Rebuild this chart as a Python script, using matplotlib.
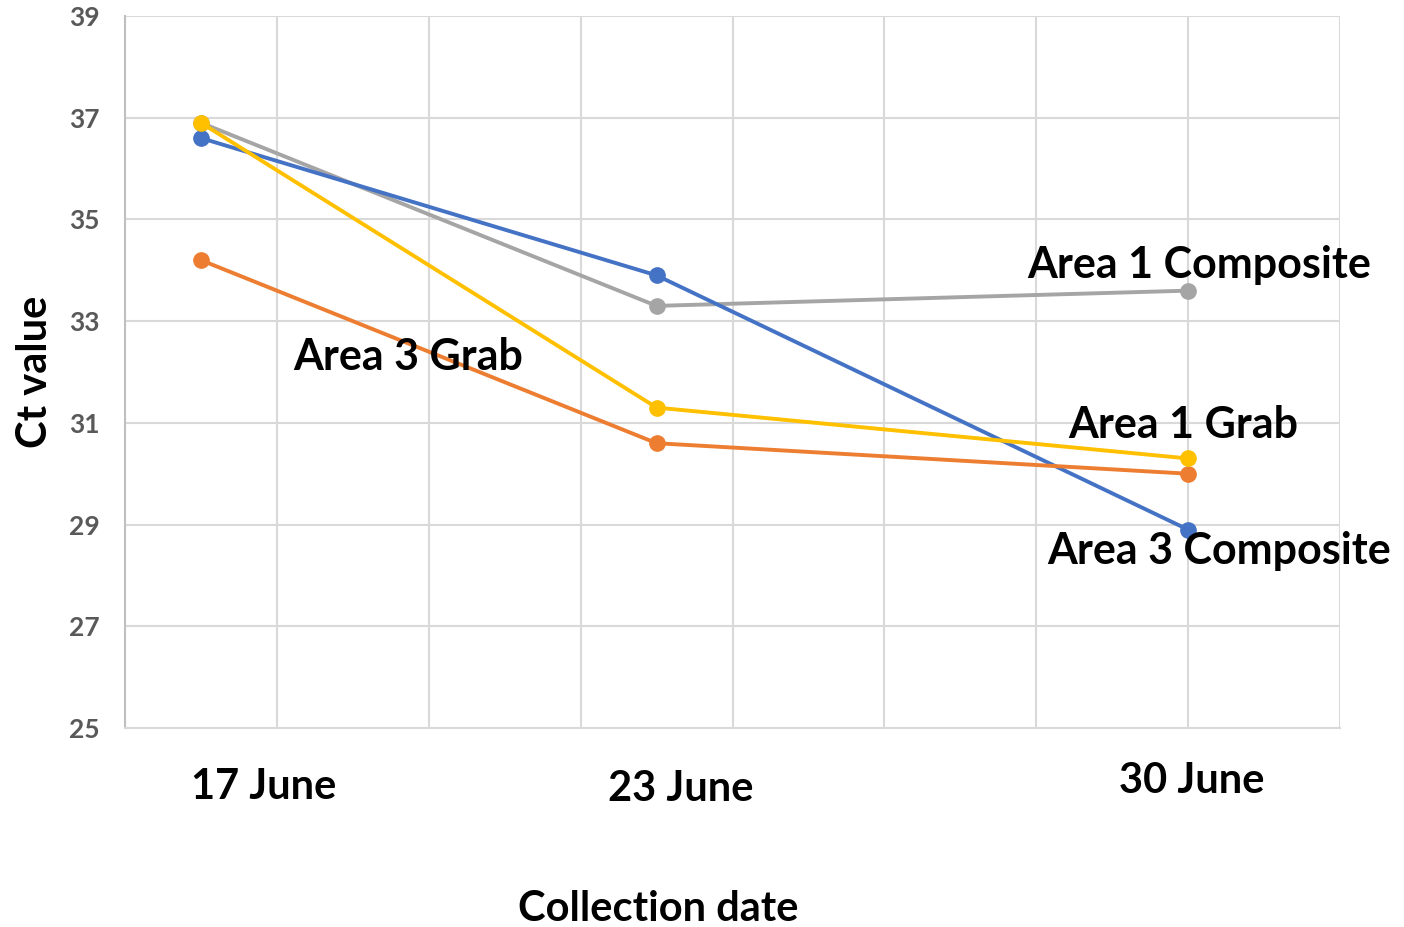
import matplotlib
matplotlib.use("Agg")
import matplotlib.pyplot as plt

plt.rcParams['font.family'] = ['Lato', 'DejaVu Sans']

# collection day (day of June, 32 = 2 July)
days = [17, 23, 30]
date_labels = ['17 June', '23 June', '30 June']

area3_composite = [36.6, 33.9, 28.9]
area3_grab = [34.2, 30.6, 30.0]
area1_composite = [36.9, 33.3, 33.6]
area1_grab = [36.9, 31.3, 30.3]

W, H = 1404, 927
fig = plt.figure(figsize=(W / 100, H / 100), dpi=100)
ax = fig.add_axes([125 / W, 1 - 728 / H, (1340 - 125) / W, (728 - 16) / H])


def px(x, y):
    return x / W, 1 - y / H


series = [
    (area1_composite, '#a5a5a5'),
    (area3_composite, '#4472c4'),
    (area3_grab, '#ed7d31'),
    (area1_grab, '#ffc000'),
]
for vals, col in series:
    ax.plot(days, vals, color=col, lw=2.8, marker='o', ms=11, zorder=3)

ax.set_xlim(16, 32)
ax.set_ylim(25, 39)
ax.set_xticks(range(16, 33, 2))
ax.set_yticks(range(25, 40, 2))
ax.set_xticklabels([])
ax.tick_params(axis='x', length=0)
ax.tick_params(axis='y', length=0, pad=18, labelsize=19, labelcolor='#595959')
for lab in ax.get_yticklabels():
    lab.set_fontweight('bold')
ax.grid(True, color='#d9d9d9', lw=1.5)
for s in ['top', 'right']:
    ax.spines[s].set_visible(False)
ax.spines['left'].set_color('#bfbfbf')
ax.spines['bottom'].set_color('#d9d9d9')
ax.spines['left'].set_linewidth(1.5)
ax.spines['bottom'].set_linewidth(1.5)

lbl = dict(fontsize=31, fontweight='bold', color='black', ha='center', va='center', zorder=5)
ax.text(30.14, 34.1, 'Area 1 Composite', **lbl)
ax.text(19.73, 32.3, 'Area 3 Grab', **lbl)
ax.text(29.93, 30.96, 'Area 1 Grab', **lbl)
ax.text(30.41, 28.48, 'Area 3 Composite', **lbl)

date_pos = [(264, 787), (681, 789), (1192, 781)]
for (x, y), t in zip(date_pos, date_labels):
    fig.text(*px(x, y), t, fontsize=30, fontweight='bold', ha='center', va='center')

fig.text(*px(658, 909), 'Collection date', fontsize=30, fontweight='bold',
         ha='center', va='center')
fig.text(*px(35, 372), 'Ct value', fontsize=30, fontweight='bold',
         ha='center', va='center', rotation=90)

fig.savefig('out.png', dpi=100, facecolor='white')
